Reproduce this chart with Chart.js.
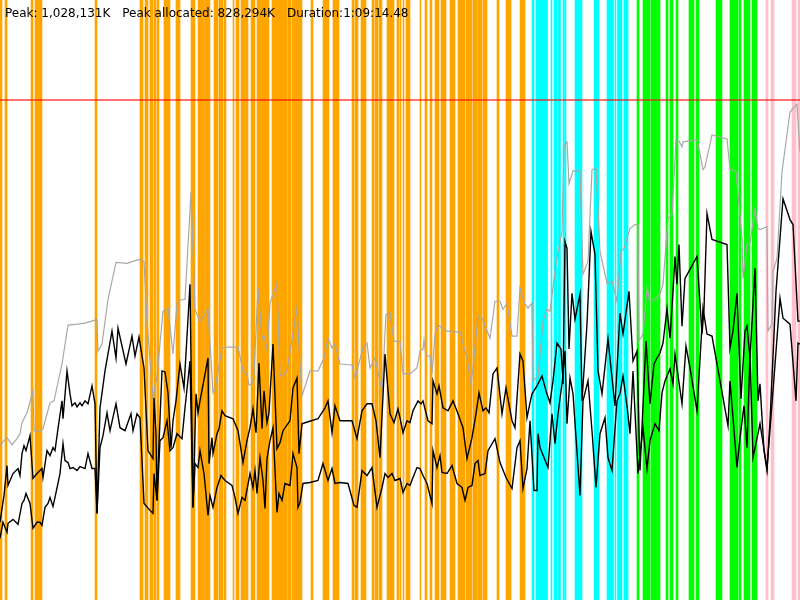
<!DOCTYPE html>
<html>
<head>
<meta charset="utf-8">
<title>Memory profile</title>
<script src="https://cdn.jsdelivr.net/npm/chart.js@4.4.1/dist/chart.umd.min.js"></script>
<style>
  body { margin: 0; background: #fff; }
  #wrap { position: relative; width: 800px; height: 600px; }
  #summary {
    position: absolute; left: 5px; top: 6px;
    font-family: "DejaVu Sans", sans-serif; font-size: 12px; line-height: 14px;
    color: #000; white-space: pre;
  }
  #summary span { margin-right: 12px; }
</style>
</head>
<body>
<div id="wrap">
  <canvas id="memory_canvas" width="800" height="600"></canvas>
  <div id="summary"><span>Peak: 1,028,131K</span><span>Peak allocated: 828,294K</span><span>Duration:1:09:14.48</span></div>
</div>
<script>
// time axis runs 0..800 samples, memory in MB
var peakMB = 1004;
var scaleTopMB = 1205;

// total heap (gray)
var heapTime = [0,4,7,12,17,20,22,27,33,34,40,43,50,54,62,68,78,85,95,97,98,102,108,116,127,139,144,147,153,157,163,168,173,177,180,185,191,195,200,208,213,215,222,227,238,243,247,249,252,254,258,262,264,267,270,277,280,283,287,297,300,302,310,318,324,328,332,335,340,352,355,363,367,370,375,382,386,390,394,400,403,410,417,420,423,424,426,430,432,435,438,443,447,460,467,471,473,478,482,490,495,500,503,507,512,517,520,525,528,532,533,538,543,547,550,555,558,562,564,567,569,573,580,583,588,592,596,600,607,612,617,621,624,630,635,638,639,643,647,650,655,660,663,668,672,676,679,682,683,697,700,703,705,712,727,730,736,742,743,747,750,755,758,760,767,768,772,773,777,782,790,797,800];
var heapMB = [310,320,326,312,324,334,356,376,420,340,338,344,396,400,474,552,554,556,562,564,500,514,604,678,676,684,680,560,406,450,580,586,494,594,602,604,820,584,560,584,416,424,506,508,508,460,454,432,434,454,626,526,530,504,596,636,450,450,460,586,474,410,460,460,486,526,506,514,474,472,446,506,516,466,486,420,574,576,520,520,454,454,466,500,504,522,490,490,454,534,552,546,540,538,486,436,466,570,566,526,600,600,584,596,530,530,626,594,586,596,440,450,560,584,580,660,700,740,914,920,836,862,862,654,680,864,868,700,636,640,600,700,706,746,754,754,520,534,626,600,604,614,634,766,774,924,922,910,920,924,896,864,870,934,926,866,860,726,646,714,716,786,746,744,750,540,554,660,686,860,980,996,900];

// allocated (upper black)
var allocTime = [0,4,7,8,13,18,20,22,24,26,30,33,37,42,43,47,50,53,55,58,62,63,67,70,72,75,77,80,82,85,88,92,95,97,100,105,112,116,118,126,132,135,139,144,148,153,154,156,157,159,162,165,168,171,173,176,180,184,190,193,196,198,200,208,209,212,213,217,219,222,225,233,238,243,247,250,253,256,259,262,264,267,269,273,277,280,283,290,293,297,299,302,305,318,325,328,332,335,340,352,357,362,367,372,376,380,385,390,394,398,400,403,407,410,413,418,421,423,428,432,433,437,439,443,448,453,458,463,467,472,476,479,483,486,489,493,497,502,506,512,515,520,523,527,530,532,537,542,546,550,553,557,561,563,565,567,569,572,575,580,582,587,591,595,598,602,608,612,615,620,623,629,633,637,640,646,650,654,657,660,663,667,670,673,675,677,679,682,685,690,697,702,704,707,712,727,730,733,737,741,745,747,750,755,758,760,764,767,770,776,783,790,793,798,800];
var allocMB = [156,210,270,230,254,264,250,294,310,300,330,244,254,264,246,300,290,306,300,344,400,364,460,414,390,396,388,396,390,400,394,430,394,174,386,460,540,486,546,474,530,490,528,466,300,284,406,334,200,314,460,458,416,306,360,400,474,426,634,186,414,376,400,486,274,326,294,334,344,380,370,364,340,276,320,346,384,336,476,344,420,356,376,514,304,316,340,360,426,446,294,354,356,364,386,400,336,390,360,360,324,380,394,394,360,286,494,374,356,384,366,336,360,356,380,400,394,400,360,354,440,414,430,386,380,400,374,346,284,326,374,416,380,386,376,454,466,374,426,360,346,494,480,366,396,414,430,450,420,396,440,516,504,434,720,706,504,616,564,614,400,554,740,694,460,414,524,446,390,576,534,620,480,500,260,520,394,474,486,496,516,584,526,620,690,634,714,550,646,664,690,534,584,776,724,714,506,540,616,404,540,550,486,666,400,434,300,260,360,620,806,764,754,560,560];

// live objects (lower black)
var liveTime = [0,3,7,8,13,18,22,24,26,30,33,37,40,42,45,48,50,53,55,60,63,65,68,70,73,77,80,85,88,92,95,97,100,103,107,110,116,120,125,131,133,137,140,144,150,153,154,157,160,163,167,170,173,177,182,185,190,193,195,198,200,204,208,210,213,217,221,225,232,235,238,242,245,250,253,255,257,260,263,265,267,270,273,277,279,282,285,290,293,297,298,300,303,310,318,323,328,332,335,340,348,354,357,362,367,372,377,382,385,388,392,395,400,403,407,410,413,417,420,423,427,432,433,437,440,442,447,452,457,462,465,468,472,475,478,480,485,488,495,500,506,512,517,520,523,527,530,534,537,538,540,548,552,555,558,562,565,567,570,573,580,583,588,592,596,600,605,608,612,617,620,623,627,630,633,638,643,647,650,655,659,662,665,670,673,675,682,686,690,697,703,707,712,728,730,737,740,744,747,750,753,760,767,773,777,780,783,790,796,798,800];
var liveMB = [124,156,136,154,162,152,194,200,214,194,144,156,156,150,186,194,206,188,206,254,314,280,276,264,266,260,268,264,294,264,264,174,306,330,376,340,394,346,340,374,340,374,366,194,180,174,254,200,320,326,360,300,306,334,324,386,480,186,274,266,300,254,170,210,186,226,250,240,230,206,174,206,200,254,226,260,214,286,240,184,284,320,346,176,214,200,234,230,294,266,186,196,234,236,240,274,240,264,234,236,234,190,186,260,250,266,186,226,254,246,254,240,244,216,234,230,246,266,264,250,234,194,300,266,290,256,254,270,234,226,200,226,230,274,280,250,254,300,324,276,246,224,306,320,224,264,360,220,220,334,306,266,374,314,374,434,500,354,446,414,210,400,440,340,226,334,366,286,260,400,414,450,390,334,460,254,346,264,320,354,340,416,440,464,434,494,394,510,466,380,586,534,530,350,440,266,326,390,306,494,286,354,264,420,526,606,566,554,400,516,514];

// activity bands, [start, end] in samples
var orangeBands = [[0,2],[5,7],[31,33],[35,42],[95,97],[140,143],[145,148],[150,153],[154,156],[157,159],[164,170],[176,180],[191,195],[198,204],[204.5,210],[214,218],[219,223],[224,226],[233,234],[236,239],[241,248],[251,255],[257,269],[272,277.7],[278.3,287.3],[288,291],[292,302],[311,313],[323,329],[333,339],[352,354],[355,358],[361,366],[372,374],[375,378],[379,382],[387,394],[397,399],[400,401],[403,404],[406,410],[420,421],[425,427],[430,432],[435,439],[441,446],[450,455],[458,465],[466,472],[473,477],[477.6,482],[483,487],[497,499],[506,511],[520,525]];
var cyanBands = [[532,534],[536,547.5],[551,552],[554,557],[558,560.5],[563,564.5],[565,566],[575,582],[594,599],[607,613.5],[615,616],[617.5,622],[624,628]];
var greenBands = [[637,639],[643,650],[651,657],[657.6,660],[666,668],[670,673],[676,678],[689,694],[696,699],[716,722],[730,738],[739,741],[744,750],[752,757]];
var pinkBands = [[766,768],[771,774],[792,796],[798,800]];

function toPoints(times, values) {
    var pts = [];
    for (var i = 0; i < times.length; i++) {
        pts.push({x: times[i], y: values[i]});
    }
    return pts;
}

var bandData = [];
var bandColors = [];
function addBands(list, color) {
    for (var i = 0; i < list.length; i++) {
        bandData.push({x: list[i], y: 'band'});
        bandColors.push(color);
    }
}
addBands(orangeBands, '#FFA500');
addBands(cyanBands, '#00FFFF');
addBands(greenBands, '#00FF00');
addBands(pinkBands, '#FFC0CB');

function createGraphic() {
    const memoryCanvas = document.getElementById('memory_canvas');
    const lineBase = {
        type: 'line',
        xAxisID: 'x',
        yAxisID: 'y',
        pointRadius: 0,
        tension: 0,
        fill: false
    };
    new Chart(memoryCanvas, {
        type: 'line',
        data: {
            datasets: [
                Object.assign({}, lineBase, {
                    label: 'Allocated',
                    data: toPoints(allocTime, allocMB),
                    borderColor: '#000000',
                    borderWidth: 1.4,
                    order: 1
                }),
                Object.assign({}, lineBase, {
                    label: 'Live',
                    data: toPoints(liveTime, liveMB),
                    borderColor: '#000000',
                    borderWidth: 1.4,
                    order: 2
                }),
                Object.assign({}, lineBase, {
                    label: 'Peak',
                    data: [{x: 0, y: peakMB}, {x: 800, y: peakMB}],
                    borderColor: 'rgba(255,0,0,0.55)',
                    borderWidth: 2,
                    order: 3
                }),
                Object.assign({}, lineBase, {
                    label: 'Heap',
                    data: toPoints(heapTime, heapMB),
                    borderColor: '#A8A8A8',
                    borderWidth: 1.2,
                    order: 4
                }),
                {
                    type: 'bar',
                    label: 'Activity',
                    indexAxis: 'y',
                    xAxisID: 'x',
                    yAxisID: 'yBand',
                    data: bandData,
                    backgroundColor: bandColors,
                    borderWidth: 0,
                    barPercentage: 1,
                    categoryPercentage: 1,
                    grouped: false,
                    order: 10
                }
            ]
        },
        options: {
            responsive: false,
            animation: false,
            events: [],
            layout: { padding: 0 },
            plugins: {
                legend: { display: false },
                tooltip: { enabled: false },
                title: { display: false }
            },
            scales: {
                x: { type: 'linear', min: 0, max: 800, display: false },
                y: { type: 'linear', min: 0, max: scaleTopMB, display: false },
                yBand: { type: 'category', labels: ['band'], offset: true, display: false }
            }
        }
    });
}

createGraphic();
</script>
</body>
</html>
